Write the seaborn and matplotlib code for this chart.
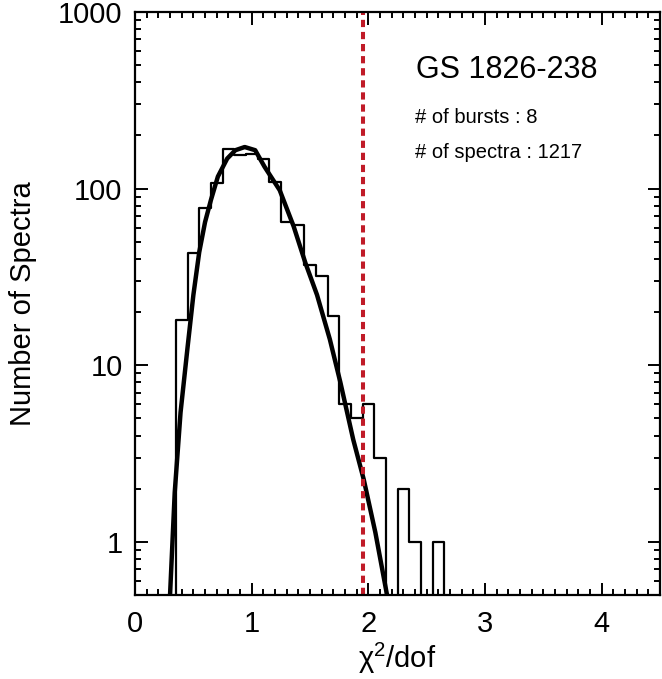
import numpy as np
import matplotlib
matplotlib.use("Agg")
import matplotlib.pyplot as plt
import seaborn as sns
from matplotlib.ticker import FixedLocator, MultipleLocator, NullFormatter

# histogram of reduced chi^2, bins 0.1 wide
bin_edges = [0.25, 0.35, 0.45, 0.55, 0.65, 0.75, 0.85, 0.95, 1.05, 1.15, 1.25, 1.35,
             1.45, 1.55, 1.65, 1.75, 1.85, 1.95, 2.05, 2.15, 2.25, 2.35, 2.45, 2.55,
             2.65, 2.75]
counts = [0, 18, 43, 78, 107, 168, 156, 158, 147, 109, 65, 62,
          37, 32, 19, 6, 5, 6, 3, 0, 2, 1, 0, 1, 0]

# fitted curve
fit_x = [0.30, 0.34, 0.39, 0.45, 0.50, 0.55, 0.60, 0.65, 0.71, 0.79, 0.86, 0.94,
         1.03, 1.11, 1.24, 1.36, 1.46, 1.56, 1.67, 1.76, 1.87, 1.96, 2.06, 2.16]
fit_y = [0.5, 1.9, 5.4, 12.6, 25, 43.6, 64.6, 86, 117, 148, 165, 172,
         165, 133, 98, 61, 38, 25, 14, 8, 3.8, 2.26, 1.13, 0.5]

chi_cut = 1.95
source = "GS 1826-238"
n_bursts = 8
n_spectra = 1217

sns.set_style("ticks")
plt.rcParams["font.family"] = ["Liberation Sans", "DejaVu Sans"]
plt.rcParams["mathtext.fontset"] = "custom"
plt.rcParams["mathtext.rm"] = "Liberation Sans"
plt.rcParams["mathtext.it"] = "Liberation Sans:italic"
plt.rcParams["text.color"] = "black"
plt.rcParams["axes.labelcolor"] = "black"

fig = plt.figure(figsize=(6.62, 6.79), dpi=100)
ax = fig.add_axes([0.204, 0.1237, 0.793, 0.8586])

centers = [(bin_edges[i] + bin_edges[i + 1]) / 2 for i in range(len(counts))]
sns.histplot(x=centers, weights=counts, bins=bin_edges, element="step", fill=False,
             color="black", linewidth=1.6, ax=ax)
sns.lineplot(x=fit_x, y=fit_y, color="black", linewidth=3.2, ax=ax)
ax.axvline(chi_cut, color="#c01b28", linewidth=2.9, dashes=(1.8, 1.2))

ax.set_yscale("log")
ax.set_xlim(0, 4.5)
ax.set_ylim(0.5, 1000)

ax.xaxis.set_major_locator(FixedLocator([0, 1, 2, 3, 4]))
ax.xaxis.set_minor_locator(MultipleLocator(0.1))
ax.set_xticklabels(["0", "1", "2", "3", "4"])
ax.yaxis.set_major_locator(FixedLocator([1, 10, 100, 1000]))
ax.set_yticklabels(["1", "10", "100", "1000"])
minor_y = [m * 10 ** d for d in range(-1, 3) for m in range(2, 10)]
ax.yaxis.set_minor_locator(FixedLocator([v for v in minor_y if 0.5 <= v <= 1000]))
ax.yaxis.set_minor_formatter(NullFormatter())

for s in ax.spines.values():
    s.set_visible(True)
    s.set_linewidth(1.6)
    s.set_color("black")
ax.tick_params(which="both", direction="in", top=True, right=True, width=1.4,
               colors="black", labelcolor="black")
ax.tick_params(which="major", length=9, labelsize=21)
ax.tick_params(which="minor", length=4.5)
ax.tick_params(axis="y", which="major", pad=9)
ax.tick_params(axis="x", which="major", pad=11)

ax.set_xlabel(r"$\mathrm{\chi}^2$/dof", fontsize=21, labelpad=2)
ax.set_ylabel("Number of Spectra", fontsize=21, labelpad=15)

ax.text(0.535, 0.887, source, transform=ax.transAxes, fontsize=22, va="baseline")
ax.text(0.533, 0.81, f"# of bursts : {n_bursts}", transform=ax.transAxes, fontsize=14.5, va="baseline")
ax.text(0.533, 0.75, f"# of spectra : {n_spectra}", transform=ax.transAxes, fontsize=14.5, va="baseline")

fig.savefig("out.png", dpi=100)
